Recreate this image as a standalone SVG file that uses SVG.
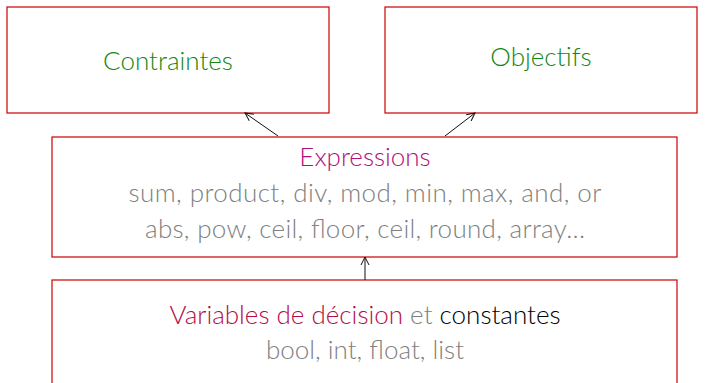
<svg xmlns="http://www.w3.org/2000/svg" width="705" height="383" viewBox="0 0 705 383">
<style>
.box{fill:#fff;stroke:#cc0000;stroke-width:1.2}
text{font-family:Lato,"Open Sans","DejaVu Sans",sans-serif;font-weight:300;text-anchor:middle;font-size:26px}
.g{fill:#118811}
.m{fill:#b0107c}
.r{fill:#b50c46}
.k{fill:#000}
.gr{fill:#808080}
.c{stroke:#111;stroke-width:1;fill:none;marker-end:url(#ah)}
</style>
<defs>
<marker id="ah" markerWidth="10" markerHeight="10" refX="9" refY="5" orient="auto" markerUnits="userSpaceOnUse">
<path d="M1,1 L9,5 L1,9" fill="none" stroke="#111" stroke-width="1"/>
</marker>
</defs>
<rect width="705" height="383" fill="#fff"/>
<g id="contraintes"><rect class="box" x="7" y="7" width="322" height="106"/><text class="g" x="168" y="70">Contraintes</text></g>
<g id="objectifs"><rect class="box" x="385" y="7" width="312" height="106"/><text class="g" x="541" y="66">Objectifs</text></g>
<g id="expressions"><rect class="box" x="52" y="137" width="625" height="120"/>
<text class="m" x="365" y="166">Expressions</text>
<text class="gr" x="365" y="202" textLength="473">sum, product, div, mod, min, max, and, or</text>
<text class="gr" x="365" y="238" textLength="440">abs, pow, ceil, floor, ceil, round, array...</text></g>
<g id="variables"><rect class="box" x="52" y="280" width="625" height="110"/>
<text x="365" y="324"><tspan class="r">Variables de décision</tspan><tspan class="gr"> et </tspan><tspan class="k">constantes</tspan></text>
<text class="gr" x="365" y="359">bool, int, float, list</text></g>
<g id="connectors">
<line class="c" x1="278" y1="136" x2="245" y2="113"/>
<line class="c" x1="445" y1="136" x2="475" y2="113"/>
<line class="c" x1="365" y1="280" x2="365" y2="257"/>
</g>
</svg>
